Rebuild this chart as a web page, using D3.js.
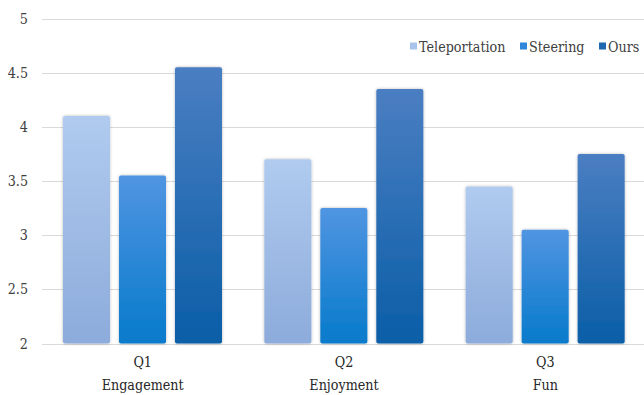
<!DOCTYPE html>
<html>
<head>
<meta charset="utf-8">
<script src="https://cdn.jsdelivr.net/npm/d3@7"></script>
<style>
  html, body { margin: 0; padding: 0; background: #fff; }
  svg { display: block; }
</style>
</head>
<body>
<div id="chart"></div>
<script>
// Survey results per question (mean score)
const categories = ["Q1", "Q2", "Q3"];
const categoryNames = ["Engagement", "Enjoyment", "Fun"];
const series = ["Teleportation", "Steering", "Ours"];
const teleportation = [4.1, 3.7, 3.45];
const steering = [3.55, 3.25, 3.05];
const ours = [4.55, 4.35, 3.75];
const yTicks = [2, 2.5, 3, 3.5, 4, 4.5, 5];

const seriesValues = [teleportation, steering, ours];
const colors = [
  { top: "#b0cbef", bottom: "#8dabdb", key: "#a9c4ea" },
  { top: "#5095e2", bottom: "#077acb", key: "#2d86d8" },
  { top: "#4b7ec2", bottom: "#0a5ea7", key: "#1f67b0" }
];

const FONT = "DejaVu Serif";
const FS = "14.5px";
const CONDENSE = 0.88;   // narrower, Times-like set width
const W = 644, H = 395;
const margin = { left: 42, right: -2 };

const svg = d3.select("#chart").append("svg")
  .attr("width", W).attr("height", H)
  .style("font-family", FONT);

// Tighten a text selection horizontally while keeping its glyph height
function condense(sel) {
  sel.each(function() {
    const len = this.getComputedTextLength();
    d3.select(this).attr("textLength", len * CONDENSE).attr("lengthAdjust", "spacingAndGlyphs");
  });
}

const defs = svg.append("defs");
colors.forEach((c, i) => {
  const g = defs.append("linearGradient")
    .attr("id", "grad" + i).attr("x1", 0).attr("y1", 0).attr("x2", 0).attr("y2", 1);
  g.append("stop").attr("offset", "0%").attr("stop-color", c.top);
  g.append("stop").attr("offset", "100%").attr("stop-color", c.bottom);
});
const shadow = defs.append("filter").attr("id", "shadow")
  .attr("x", "-20%").attr("y", "-5%").attr("width", "140%").attr("height", "110%");
shadow.append("feDropShadow").attr("dx", 0).attr("dy", 0)
  .attr("stdDeviation", 1.6).attr("flood-color", "#000").attr("flood-opacity", 0.28);

const y = d3.scaleLinear().domain([2, 5]).range([343.5, 18.5]);
const x0 = d3.scaleBand().domain(categories).range([margin.left, W - margin.right]);
const x1 = d3.scaleBand().domain(series).range([21, 180]).paddingInner(0.16);

// Gridlines
svg.append("g").selectAll("line").data(yTicks).join("line")
  .attr("x1", margin.left).attr("x2", W)
  .attr("y1", d => Math.round(y(d)) + 0.5).attr("y2", d => Math.round(y(d)) + 0.5)
  .attr("stroke", "#d9d9d9").attr("stroke-width", 1);

// Y tick labels
svg.append("g").selectAll("text").data(yTicks).join("text")
  .attr("x", 28).attr("y", d => y(d) + 5)
  .attr("text-anchor", "end")
  .attr("font-size", FS)
  .attr("fill", "#404040")
  .text(d => d)
  .call(condense);

// Bars
const groups = svg.append("g").selectAll("g").data(categories).join("g")
  .attr("transform", d => `translate(${x0(d)},0)`);

groups.each(function(cat, ci) {
  const g = d3.select(this);
  series.forEach((s, si) => {
    const v = seriesValues[si][ci];
    g.append("rect")
      .attr("x", x1(s))
      .attr("y", y(v))
      .attr("width", x1.bandwidth())
      .attr("height", y(2) - y(v))
      .attr("rx", 2).attr("ry", 2)
      .attr("fill", `url(#grad${si})`)
      .attr("filter", "url(#shadow)");
  });
});

// Category labels
const labels = svg.append("g").selectAll("g").data(categories).join("g")
  .attr("transform", d => `translate(${x0(d) + x0.bandwidth() / 2},0)`)
  .attr("fill", "#262626");
labels.append("text").attr("y", 367).attr("text-anchor", "middle")
  .attr("font-size", FS).text(d => d).call(condense);
labels.append("text").attr("y", 390).attr("text-anchor", "middle")
  .attr("font-size", FS).text((d, i) => categoryNames[i]).call(condense);

// Legend
const legendX = [410, 520, 599];
const legend = svg.append("g").selectAll("g").data(series).join("g")
  .attr("transform", (d, i) => `translate(${legendX[i]},0)`);
legend.append("rect").attr("x", 0).attr("y", 42.5).attr("width", 7).attr("height", 7)
  .attr("fill", (d, i) => colors[i].key);
legend.append("text").attr("x", 9).attr("y", 51.5)
  .attr("font-size", FS).attr("fill", "#404040").text(d => d).call(condense);
</script>
</body>
</html>
